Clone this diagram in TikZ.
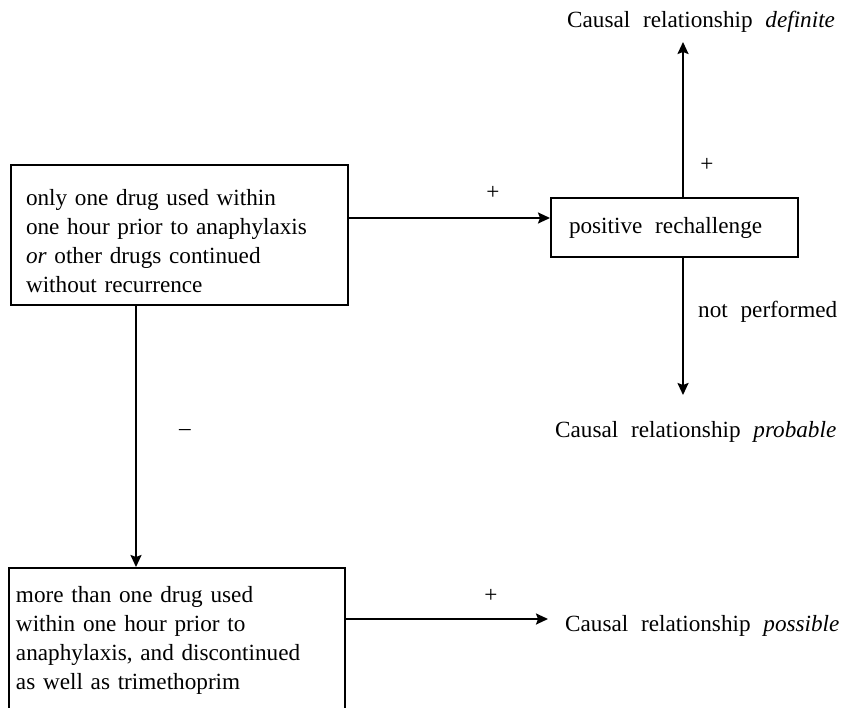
\documentclass[tikz,border=0pt]{standalone}
\usepackage{fontspec}
\setmainfont{Liberation Serif}
\usetikzlibrary{arrows.meta,calc}
\begin{document}
\begin{tikzpicture}[x=1pt,y=-1pt,
  every node/.style={font=\fontsize{23.2}{29}\selectfont, inner sep=0pt},
  boxnode/.style={draw, line width=2pt, align=left},
  arr/.style={line width=2pt, -{Stealth[length=12pt,width=11pt,inset=2pt]}},
  lbl/.style={anchor=base west}
]
\clip (0,0) rectangle (850,708);
\useasboundingbox (0,0) rectangle (850,708);
\newcommand{\ws}{\hspace{0.55em}}
% boxes
\node[boxnode, anchor=north west, text width=307pt, inner xsep=15pt, minimum height=140pt] (b1) at (10,164)
  {\rule{0pt}{28pt}only one drug used within\\ one hour prior to anaphylaxis\\ \textit{or} other drugs continued\\ without recurrence};
\node[boxnode, anchor=north west, text width=211pt, inner xsep=18pt, minimum height=59pt] (b2) at (550,197)
  {positive\ws rechallenge};
\node[boxnode, anchor=north west, text width=322pt, inner xsep=7pt, minimum height=145pt] (b3) at (8,567)
  {more than one drug used\\ within one hour prior to\\ anaphylaxis, and discontinued\\ as well as trimethoprim};
% end coordinates
\coordinate (tdef) at (683,42);
\coordinate (tprob) at (683,395);
\coordinate (tposs) at (548,619);
% outcome labels
\node[lbl] (ldef) at (567,28) {Causal\ws relationship\ws \textit{definite}};
\node[lbl] (lprob) at (555,437) {Causal\ws relationship\ws \textit{probable}};
\node[lbl] (lposs) at (565,631) {Causal\ws relationship\ws \textit{possible}};
% connectors
\draw[arr] ([yshift=-54pt]b1.north east) -- ([yshift=-54pt]b1.north east -| b2.west);
\draw[arr] (tdef |- b2.north) -- (tdef);
\draw[arr] (tprob |- b2.south) -- (tprob);
\draw[arr] ([xshift=126pt]b1.south west) -- ([xshift=126pt]b1.south west |- b3.north);
\draw[arr] (b3.north east |- tposs) -- (tposs);
% connector labels
\node (p1) at (493,193) {+};
\node (p2) at (707,165) {+};
\node[lbl] (np) at (698,317) {not\ws performed};
\node (m1) at (185,433) {--};
\node (p3) at (491,596) {+};
\end{tikzpicture}
\end{document}
